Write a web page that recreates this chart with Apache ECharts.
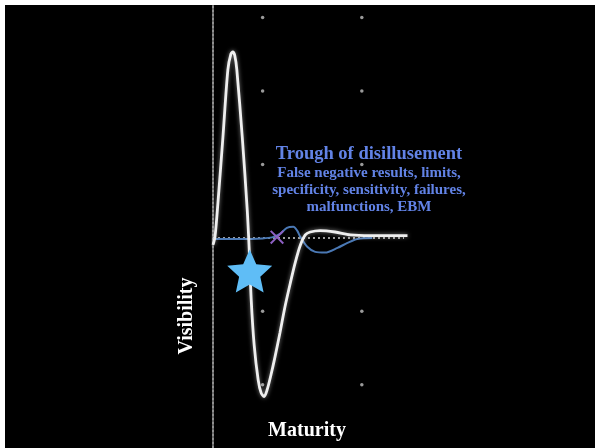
<!DOCTYPE html>
<html><head><meta charset="utf-8">
<script src="https://cdn.jsdelivr.net/npm/echarts@6/dist/echarts.min.js"></script>
<style>
html,body{margin:0;padding:0;background:#fff;width:595px;height:448px;overflow:hidden}
#c{position:absolute;left:5px;top:5px;width:590px;height:443px;background:#000}
</style></head>
<body><div id="c"></div>
<script>
// Hype-cycle style curve: maturity (x) vs visibility (y), baseline = 0
const whiteMaturity = [0,0.04,0.10,0.20,0.30,0.36,0.40,0.44,0.48,0.59,0.69,0.73,0.77,0.83,0.91,0.97,1.03,1.09,1.17,1.25,1.35,1.45,1.56,1.66,1.76,1.86,1.96,2.16,2.46,2.77,3.17,3.58,3.92];
const whiteVisibility = [-0.095,0.014,0.48,1.37,2.29,2.50,2.53,2.48,2.29,1.37,0.38,-0.16,-0.84,-1.46,-1.93,-2.11,-2.16,-2.07,-1.86,-1.62,-1.29,-0.94,-0.61,-0.33,-0.10,0.04,0.08,0.10,0.08,0.04,0.03,0.03,0.03];
const blueMaturity = [0,0.55,0.99,1.19,1.35,1.49,1.62,1.70,1.76,1.90,2.06,2.26,2.51,2.71,2.91,3.21];
const blueVisibility = [-0.014,-0.014,-0.007,0.007,0.054,0.136,0.15,0.095,0.014,-0.12,-0.19,-0.20,-0.136,-0.068,-0.014,0];
const baselineMaturity = [0,3.85];
const baselineVisibility = [0,0];
const gridDotMaturity = [1,3];
const gridDotVisibility = [3,2,1,-1,-2];
const starPoint = [0.74,-0.45];
const crossPoint = [1.29,0.01];
const titleText = 'Trough of disillusement';
const detailLines = ['False negative results, limits,','specificity, sensitivity, failures,','malfunctions, EBM'];
const xName = 'Maturity';
const yName = 'Visibility';

const zip = (a,b)=>a.map((v,i)=>[v,b[i]]);
const dots = [];
gridDotMaturity.forEach(x=>gridDotVisibility.forEach(y=>dots.push([x,y])));

// fat five-point star symbol path
function starPath(inner){
  let d='';
  for(let i=0;i<10;i++){
    const r = i%2===0 ? 50 : 50*inner;
    const a = -Math.PI/2 + i*Math.PI/5;
    d += (i===0?'M':'L') + (50+r*Math.cos(a)).toFixed(2) + ',' + (50+r*Math.sin(a)).toFixed(2) + ' ';
  }
  return 'path://' + d + 'Z';
}

const chart = echarts.init(document.getElementById('c'));
const serif = '"Liberation Serif","DejaVu Serif",serif';
const blueText = '#6283e6';
chart.setOption({
  backgroundColor:'#000',
  animation:false,
  grid:{left:208,right:0,top:0,bottom:0},
  xAxis:{type:'value',min:0,max:7.7,show:true,axisLine:{show:false},axisTick:{show:false},axisLabel:{show:false},splitLine:{show:false}},
  yAxis:{type:'value',min:-2.86,max:3.17,axisLine:{show:true,lineStyle:{color:'#8f8f8f',width:2,type:[2,2]}},axisTick:{show:false},axisLabel:{show:false},splitLine:{show:false}},
  series:[
    {type:'scatter',data:dots,symbolSize:3.5,itemStyle:{color:'#9a9a9a',opacity:1},silent:true,z:1},
    {type:'line',data:zip(baselineMaturity,baselineVisibility),symbol:'none',lineStyle:{color:'#d0d0d0',width:1.5,type:[2,3]},z:2},
    {type:'line',data:zip(blueMaturity,blueVisibility),symbol:'none',smooth:0.3,lineStyle:{color:'#4a78b4',width:2},z:3},
    {type:'line',data:zip(whiteMaturity,whiteVisibility),symbol:'none',smooth:0.3,lineStyle:{color:'#efefef',width:2.8,shadowBlur:4,shadowColor:'rgba(255,255,255,0.5)'},z:4},
    {type:'scatter',data:[crossPoint],symbol:'path://M0,1 L1,0 L5,4 L9,0 L10,1 L6,5 L10,9 L9,10 L5,6 L1,10 L0,9 L4,5Z',symbolSize:14,itemStyle:{color:'#8e60c4',opacity:1},z:5},
    {type:'scatter',data:[starPoint],symbol:starPath(0.47),symbolSize:[45,43],itemStyle:{color:'#5fbdf6',opacity:1},z:6}
  ],
  graphic:[
    {type:'text',x:364,y:149,style:{text:titleText,fill:blueText,font:'bold 18.5px '+serif,textAlign:'center',textVerticalAlign:'middle'}},
    {type:'text',x:364,y:168,style:{text:detailLines[0],fill:blueText,font:'bold 15px '+serif,textAlign:'center',textVerticalAlign:'middle'}},
    {type:'text',x:364,y:185,style:{text:detailLines[1],fill:blueText,font:'bold 15px '+serif,textAlign:'center',textVerticalAlign:'middle'}},
    {type:'text',x:364,y:202,style:{text:detailLines[2],fill:blueText,font:'bold 15px '+serif,textAlign:'center',textVerticalAlign:'middle'}},
    {type:'text',x:302,y:426,style:{text:xName,fill:'#fff',font:'bold 20px '+serif,textAlign:'center',textVerticalAlign:'middle'}},
    {type:'text',x:182,y:311,rotation:Math.PI/2,style:{text:yName,fill:'#fff',font:'bold 20px '+serif,textAlign:'center',textVerticalAlign:'middle'}}
  ]
});
</script></body></html>
